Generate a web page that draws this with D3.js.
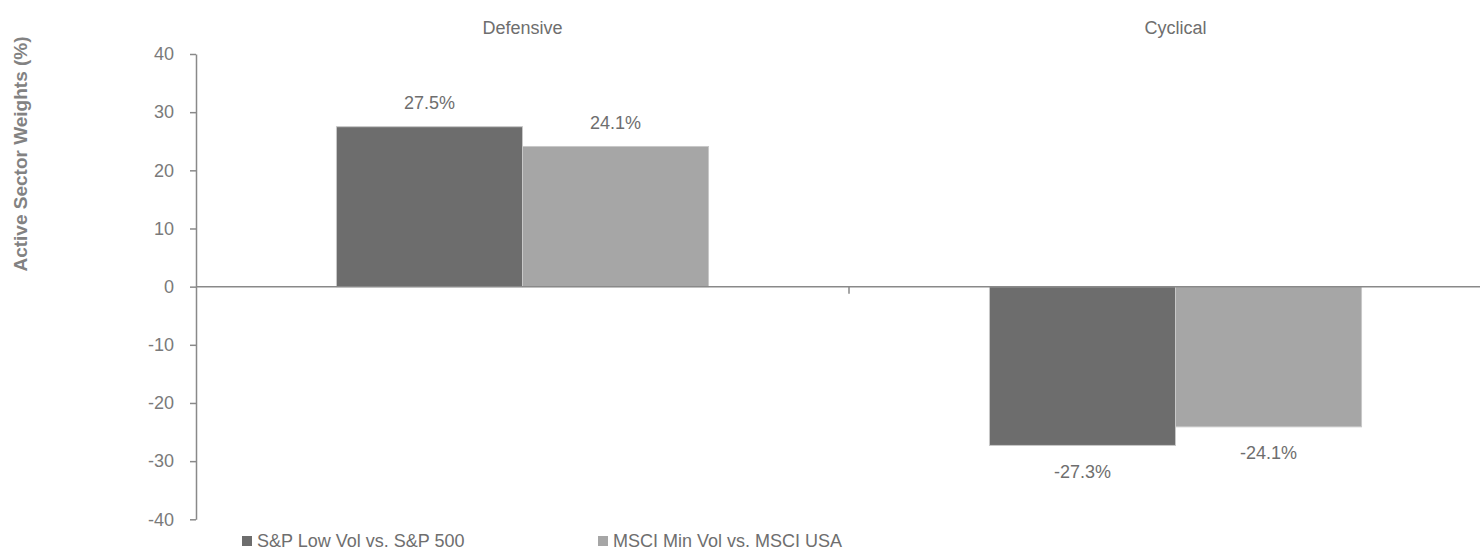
<!DOCTYPE html>
<html>
<head>
<meta charset="utf-8">
<script src="https://cdn.jsdelivr.net/npm/d3@7"></script>
<style>
  body { margin: 0; background: #fff; }
  svg { display: block; font-family: "Liberation Sans", Arial, sans-serif; }
</style>
</head>
<body>
<svg id="chart" width="1480" height="551"></svg>
<script>
const categories = ["Defensive", "Cyclical"];
const seriesNames = ["S&P Low Vol vs. S&P 500", "MSCI Min Vol vs. MSCI USA"];
const lowVolValues = [27.5, -27.3];
const minVolValues = [24.1, -24.1];
const yTicks = [40, 30, 20, 10, 0, -10, -20, -30, -40];
const colors = ["#6d6d6d", "#a6a6a6"];

const svg = d3.select("#chart");

const plotLeft = 196, plotRight = 1502, plotTop = 54, plotBottom = 519.3;

const x = d3.scaleBand().domain(categories).range([plotLeft, plotRight]).paddingInner(0).paddingOuter(0);
const xSub = d3.scaleBand().domain(d3.range(seriesNames.length)).range([0, x.bandwidth()]).paddingInner(0).paddingOuter(0.755);
const y = d3.scaleLinear().domain([-40, 40]).range([plotBottom, plotTop]);

// y axis (plain hyphen for negatives, like the original)
const yAxis = svg.append("g")
  .attr("transform", `translate(${plotLeft},0)`)
  .call(d3.axisLeft(y).tickValues(yTicks).tickFormat(d => String(d)).tickSize(6).tickPadding(16).tickSizeOuter(0));
yAxis.select(".domain").attr("stroke", "#898989").attr("stroke-width", 1.5);
yAxis.selectAll(".tick line").attr("stroke", "#898989").attr("stroke-width", 1.5);
yAxis.selectAll(".tick text")
  .attr("fill", "#7a7a7a")
  .style("font-size", "18px")
  .style("font-family", "'Liberation Sans', Arial, sans-serif");

// y axis title
svg.append("text")
  .attr("transform", `translate(27,154) rotate(-90)`)
  .attr("text-anchor", "middle")
  .attr("fill", "#828282")
  .style("font-size", "19px")
  .style("font-weight", "bold")
  .text("Active Sector Weights (%)");

// category labels on top
svg.selectAll("text.cat")
  .data(categories)
  .enter()
  .append("text")
  .attr("class", "cat")
  .attr("x", d => x(d) + x.bandwidth() / 2)
  .attr("y", 34)
  .attr("text-anchor", "middle")
  .attr("fill", "#6e6e6e")
  .style("font-size", "18px")
  .text(d => d);

// bars
const rows = categories.map((c, i) => ({
  cat: c,
  vals: [lowVolValues[i], minVolValues[i]]
}));

const groups = svg.selectAll("g.grp")
  .data(rows)
  .enter()
  .append("g")
  .attr("class", "grp")
  .attr("transform", d => `translate(${x(d.cat)},0)`);

const bars = groups.selectAll("rect")
  .data(d => d.vals.map((v, k) => ({ v, k })))
  .enter();

bars.append("rect")
  .attr("x", d => xSub(d.k))
  .attr("width", xSub.bandwidth())
  .attr("y", d => y(Math.max(0, d.v)))
  .attr("height", d => Math.abs(y(d.v) - y(0)))
  .attr("fill", d => colors[d.k])
  .attr("stroke", "#c8c8c8")
  .attr("stroke-width", 1);

bars.append("text")
  .attr("x", d => xSub(d.k) + xSub.bandwidth() / 2)
  .attr("y", d => d.v >= 0 ? y(d.v) - 17.5 : y(d.v) + 32.5)
  .attr("text-anchor", "middle")
  .attr("fill", "#6e6e6e")
  .style("font-size", "18px")
  .text(d => d.v.toFixed(1) + "%");

// zero line with category separators
svg.append("line")
  .attr("x1", plotLeft).attr("x2", plotRight)
  .attr("y1", y(0)).attr("y2", y(0))
  .attr("stroke", "#898989")
  .attr("stroke-width", 1.5);

svg.selectAll("line.sep")
  .data(categories.slice(1))
  .enter()
  .append("line")
  .attr("class", "sep")
  .attr("x1", d => x(d)).attr("x2", d => x(d))
  .attr("y1", y(0)).attr("y2", y(0) + 7)
  .attr("stroke", "#898989")
  .attr("stroke-width", 1.5);

// legend
const legendX = [242, 598];
const legend = svg.selectAll("g.leg")
  .data(seriesNames)
  .enter()
  .append("g")
  .attr("class", "leg")
  .attr("transform", (d, i) => `translate(${legendX[i]},536)`);

legend.append("rect")
  .attr("width", 10)
  .attr("height", 10)
  .attr("fill", (d, i) => colors[i]);

legend.append("text")
  .attr("x", 15)
  .attr("y", 11)
  .attr("fill", "#6e6e6e")
  .style("font-size", "18px")
  .text(d => d);
</script>
</body>
</html>
